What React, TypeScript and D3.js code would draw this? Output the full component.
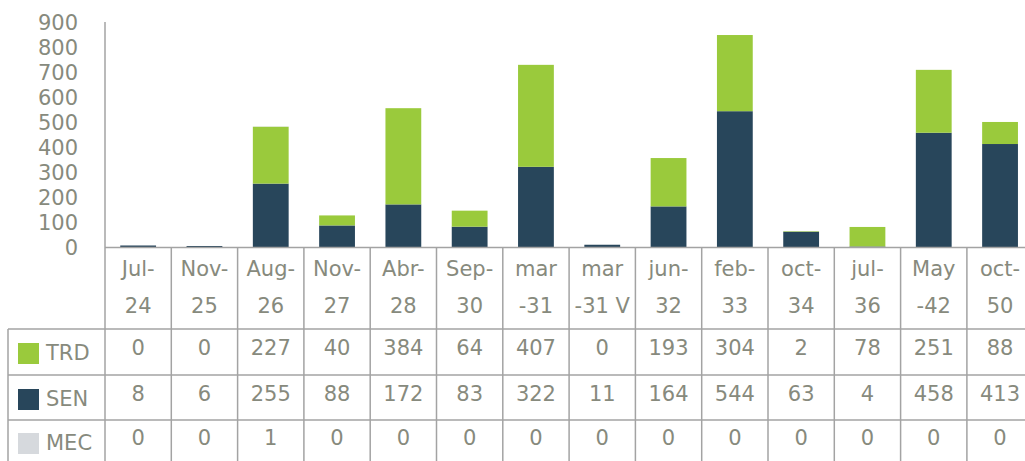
import React from "react";
import * as d3 from "d3";

const categories = ["Jul-24", "Nov-25", "Aug-26", "Nov-27", "Abr-28", "Sep-30", "mar-31", "mar-31 V", "jun-32", "feb-33", "oct-34", "jul-36", "May-42", "oct-50"];
const categoryLines = [
  ["Jul-", "24"], ["Nov-", "25"], ["Aug-", "26"], ["Nov-", "27"], ["Abr-", "28"],
  ["Sep-", "30"], ["mar", "-31"], ["mar", "-31 V"], ["jun-", "32"], ["feb-", "33"],
  ["oct-", "34"], ["jul-", "36"], ["May", "-42"], ["oct-", "50"],
];
const trd = [0, 0, 227, 40, 384, 64, 407, 0, 193, 304, 2, 78, 251, 88];
const sen = [8, 6, 255, 88, 172, 83, 322, 11, 164, 544, 63, 4, 458, 413];
const mec = [0, 0, 1, 0, 0, 0, 0, 0, 0, 0, 0, 0, 0, 0];
const yTicks = [0, 100, 200, 300, 400, 500, 600, 700, 800, 900];

const seriesNames = ["SEN", "TRD", "MEC"];
const colors: Record<string, string> = { SEN: "#28465b", TRD: "#9aca3c", MEC: "#d6d9dd" };
const tableRows = [
  { name: "TRD", values: trd },
  { name: "SEN", values: sen },
  { name: "MEC", values: mec },
];

const W = 1025, H = 461;
const left = 105, colW = 66.3;
const yTop = 22, yBase = 247.5;
const rowLines = [329, 375, 420];
const textColor = "#878a7d";
const lineColor = "#a3a3a3";
const font = "'DejaVu Sans', sans-serif";

export default function App() {
  const x = d3.scaleBand<string>().domain(categories).range([left, left + colW * categories.length]).paddingInner(0.46).paddingOuter(0.23);
  const y = d3.scaleLinear().domain([0, 900]).range([yBase, yTop]);

  const rows = categories.map((c, i) => ({ cat: c, SEN: sen[i], TRD: trd[i], MEC: mec[i] }));
  const stacked = d3.stack<any>().keys(seriesNames)(rows);

  const colEdges = d3.range(categories.length + 1).map((i) => left + i * colW);
  const rowCenters = [351, 397, 441];

  return (
    <svg width={W} height={H} style={{ position: "absolute", left: 0, top: 0, background: "#fff" }} fontFamily={font}>
      {/* y axis labels */}
      {yTicks.map((t) => (
        <text key={t} x={78} y={y(t)} dy="0.36em" textAnchor="end" fontSize={21} fill={textColor}>{t}</text>
      ))}
      {/* bars */}
      {stacked.map((s) => (
        <g key={s.key} fill={colors[s.key]}>
          {s.map((d, i) => (
            d[1] - d[0] > 0 ? (
              <rect key={i} x={x(categories[i])} width={x.bandwidth()} y={y(d[1])} height={y(d[0]) - y(d[1])} />
            ) : null
          ))}
        </g>
      ))}
      {/* axis line */}
      <line x1={left} x2={left} y1={yTop} y2={H} stroke={lineColor} strokeWidth={1.5} />
      <line x1={left} x2={W} y1={yBase} y2={yBase} stroke={lineColor} strokeWidth={1.5} />
      {/* table grid */}
      {colEdges.slice(1).map((e, i) => (
        <line key={i} x1={e} x2={e} y1={yBase} y2={H} stroke={lineColor} strokeWidth={1.5} />
      ))}
      {rowLines.map((r) => (
        <line key={r} x1={8} x2={W} y1={r} y2={r} stroke={lineColor} strokeWidth={1.5} />
      ))}
      <line x1={8} x2={8} y1={rowLines[0]} y2={H} stroke={lineColor} strokeWidth={1.5} />
      {/* category labels */}
      {categories.map((c, i) => {
        const cx = (x(c) as number) + x.bandwidth() / 2;
        return (
          <text key={c} textAnchor="middle" fontSize={21} fill={textColor}>
            <tspan x={cx} y={276}>{categoryLines[i][0]}</tspan>
            <tspan x={cx} y={313}>{categoryLines[i][1]}</tspan>
          </text>
        );
      })}
      {/* table rows */}
      {tableRows.map((r, ri) => (
        <g key={r.name}>
          <rect x={18} y={rowCenters[ri] - 8} width={21} height={21} fill={colors[r.name]} />
          <text x={46} y={rowCenters[ri]} dy="0.42em" fontSize={21} fill={textColor}>{r.name}</text>
          {r.values.map((v, i) => (
            <text key={i} x={(x(categories[i]) as number) + x.bandwidth() / 2} y={rowCenters[ri]} dy="0.2em" textAnchor="middle" fontSize={21} fill={textColor}>{v}</text>
          ))}
        </g>
      ))}
    </svg>
  );
}
